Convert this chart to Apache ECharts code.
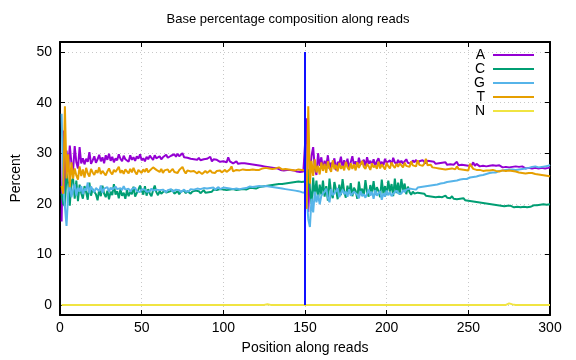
<!DOCTYPE html>
<html><head><meta charset="utf-8">
<script src="https://cdn.jsdelivr.net/npm/echarts@6.0.0/dist/echarts.min.js"></script>
<style>html,body{margin:0;padding:0;background:#fff}#c{width:576px;height:360px}</style>
</head><body><div id="c"></div>
<script>
const seriesNames = ['A', 'C', 'G', 'T', 'N'];
const xTickValues = [0, 50, 100, 150, 200, 250, 300];
const yTickValues = [0, 10, 20, 30, 40, 50];
const boundaryX = 150;
const boundaryY = [0, 50];

const A = [16.5, 34.5, 22.0, 30.5, 26.5, 31.5, 28.0, 26.5, 31.4, 28.2,
 27.0, 31.2, 28.0, 29.0, 27.8, 28.9, 28.3, 30.2, 27.9, 28.6,
 29.4, 28.1, 28.8, 29.7, 28.4, 29.2, 28.0, 29.6, 28.7, 29.9,
 28.5, 29.3, 28.2, 29.0, 28.6, 29.8, 28.9, 28.4, 29.5, 28.8,
 29.1, 28.3, 29.6, 28.7, 29.2, 28.5, 29.4, 28.9, 29.8, 28.6,
 29.0, 28.4, 29.3, 28.8, 29.5, 29.1, 28.7, 29.6, 29.0, 28.9,
 29.4, 28.8, 29.2, 29.0, 29.7, 29.1, 28.9, 29.5, 29.2, 29.8,
 29.3, 29.9, 29.4, 29.6, 30.0, 29.2, 29.5, 29.1, 29.4, 28.9,
 29.2, 28.8, 29.0, 28.7, 29.1, 28.6, 28.9, 28.8, 28.5, 28.9,
 28.6, 29.3, 28.4, 28.8, 28.5, 28.7, 28.6, 28.3, 28.5, 28.4,
 28.6, 28.2, 29.2, 28.4, 28.3, 28.0, 28.2, 28.4, 27.9, 28.1,
 28.0, 27.8, 28.0, 27.7, 27.9, 27.6, 27.8, 27.5, 27.7, 27.4,
 27.6, 27.3, 27.5, 27.2, 27.4, 27.1, 27.3, 27.0, 27.2, 26.9,
 27.1, 26.8, 27.0, 26.9, 26.7, 26.9, 26.6, 26.8, 26.7, 26.5,
 26.7, 26.4, 26.6, 26.5, 26.4, 26.6, 26.3, 26.5, 26.4, 26.3,
 36.9, 18.4, 26.0, 29.5, 31.2, 27.0, 25.7, 30.0, 27.5, 29.2,
 26.8, 28.5, 27.4, 29.6, 26.9, 28.1, 27.7, 29.0, 26.6, 28.3,
 27.9, 29.3, 27.2, 28.6, 27.5, 28.9, 27.0, 28.2, 29.4, 27.6,
 28.4, 27.3, 29.1, 27.8, 28.0, 28.7, 27.4, 29.2, 27.9, 28.5,
 27.7, 28.8, 27.5, 28.4, 29.0, 27.8, 28.3, 27.6, 28.9, 28.1,
 27.9, 28.6, 27.7, 29.1, 28.2, 27.8, 28.7, 28.0, 28.5, 27.9,
 28.4, 28.8, 28.1, 28.3, 27.9, 28.6, 28.2, 28.7, 28.0, 28.4,
 28.1, 28.6, 28.3, 28.0, 28.5, 28.2, 28.4, 28.1, 28.3, 27.9,
 28.2, 28.0, 27.8, 28.1, 27.9, 28.2, 27.7, 28.0, 27.8, 27.9,
 27.7, 28.0, 28.3, 27.6, 27.9, 27.7, 28.0, 27.6, 27.8, 27.5,
 27.7, 27.6, 28.2, 27.5, 27.9, 27.6, 27.4, 27.7, 27.5, 27.6,
 27.4, 27.7, 27.5, 27.3, 27.6, 27.4, 27.5, 27.3, 27.6, 27.4,
 27.2, 27.5, 27.3, 27.4, 27.2, 27.5, 27.3, 27.1, 27.4, 27.2,
 27.3, 27.1, 27.4, 27.2, 27.0, 27.3, 27.1, 27.2, 27.0, 27.3,
 27.1, 27.2, 27.0, 27.3, 27.1, 27.2, 27.0, 27.3, 27.1, 27.2];

const C = [22.0, 20.0, 19.5, 26.0, 24.0, 19.6, 24.5, 25.0, 21.0, 24.6,
 20.5, 23.8, 22.1, 21.0, 23.5, 22.3, 20.8, 24.2, 21.6, 22.9,
 23.1, 21.9, 20.7, 22.8, 21.5, 23.6, 22.0, 21.3, 22.6, 20.9,
 22.4, 21.7, 23.9, 21.8, 22.5, 21.1, 22.9, 21.6, 22.2, 21.0,
 22.7, 21.5, 22.3, 21.9, 23.4, 21.4, 22.1, 22.8, 23.6, 22.6,
 21.8, 23.5, 21.6, 22.9, 22.0, 21.5, 22.7, 23.6, 22.3, 21.7,
 22.5, 22.0, 21.8, 22.6, 22.2, 21.9, 22.4, 22.1, 22.7, 22.0,
 22.3, 22.5, 21.9, 22.4, 22.2, 22.6, 22.1, 22.5, 22.3, 22.0,
 22.4, 22.2, 22.6, 22.3, 22.5, 22.1, 22.4, 22.7, 22.2, 22.5,
 22.3, 22.6, 22.4, 22.8, 22.5, 22.7, 22.6, 22.9, 22.7, 22.8,
 22.5, 22.7, 22.6, 22.8, 22.7, 22.9, 22.8, 22.7, 22.9, 22.8,
 22.7, 22.9, 23.0, 22.8, 23.0, 23.1, 22.9, 23.1, 23.2, 23.0,
 23.2, 23.3, 23.1, 23.4, 23.3, 23.5, 23.4, 23.6, 23.5, 23.7,
 23.6, 23.8, 23.7, 23.9, 24.0, 23.9, 24.1, 24.0, 24.2, 24.1,
 24.3, 24.2, 24.4, 24.3, 24.5, 24.4, 24.6, 24.3, 24.5, 24.4,
 22.5, 26.8, 23.0, 20.0, 25.2, 21.5, 24.6, 20.9, 23.8, 21.8,
 24.6, 21.4, 23.5, 20.6, 25.0, 22.2, 21.1, 24.3, 22.8, 20.9,
 23.8, 21.7, 24.9, 22.4, 21.2, 23.6, 22.0, 24.1, 21.5, 23.2,
 22.6, 21.0, 24.4, 22.1, 23.0, 21.6, 24.7, 22.3, 21.4, 23.7,
 22.2, 24.5, 21.8, 23.3, 22.5, 21.3, 24.8, 22.0, 23.5, 21.7,
 24.6, 22.4, 23.9, 21.5, 25.0, 22.1, 24.2, 21.8, 24.9, 22.6,
 24.0, 21.9, 23.4, 22.3, 21.8, 22.4, 22.0, 21.7, 22.2, 21.9,
 22.1, 21.8, 22.0, 21.6, 21.9, 21.5, 21.8, 21.4, 21.7, 21.3,
 21.6, 21.4, 21.7, 21.3, 21.5, 21.6, 21.2, 21.4, 21.1, 21.5,
 21.0, 21.3, 20.9, 21.2, 21.0, 20.8, 21.1, 20.7, 20.9, 20.6,
 20.8, 20.5, 20.7, 20.4, 20.6, 20.3, 20.5, 20.2, 20.4, 20.1,
 20.3, 20.0, 20.2, 19.9, 20.1, 19.8, 20.0, 19.7, 19.9, 19.6,
 19.8, 19.5, 19.7, 19.6, 19.4, 19.6, 19.5, 19.3, 19.6, 19.4,
 19.5, 19.3, 19.6, 19.4, 19.5, 19.3, 19.6, 19.4, 19.5, 19.7,
 19.5, 19.7, 19.6, 19.8, 19.7, 19.9, 20.1, 19.8, 20.0, 19.9];

const G = [37.8, 23.0, 19.5, 15.6, 22.0, 24.1, 21.3, 22.8, 23.9, 21.6,
 23.2, 22.4, 23.5, 21.9, 23.0, 22.6, 24.2, 22.1, 23.4, 22.8,
 22.3, 23.1, 22.9, 22.5, 23.6, 22.2, 23.0, 22.7, 23.3, 22.4,
 23.2, 22.8, 22.5, 23.4, 22.9, 22.6, 23.1, 22.7, 23.5, 22.8,
 22.6, 23.0, 22.4, 22.9, 22.7, 23.2, 22.5, 22.8, 22.3, 22.9,
 22.6, 22.8, 22.4, 22.7, 22.5, 23.0, 22.6, 22.3, 22.8, 22.5,
 22.7, 22.4, 22.8, 22.6, 22.3, 22.7, 22.5, 22.9, 22.4, 22.6,
 22.8, 22.5, 22.7, 22.3, 22.6, 22.8, 22.4, 22.7, 22.5, 22.9,
 22.6, 22.8, 22.5, 23.0, 22.7, 22.9, 22.6, 23.1, 22.8, 23.0,
 22.7, 23.1, 22.9, 23.2, 22.8, 23.0, 23.3, 22.9, 23.1, 23.2,
 22.9, 23.1, 22.8, 23.0, 23.2, 22.9, 23.1, 23.0, 23.2, 22.9,
 23.1, 23.0, 23.3, 23.1, 23.2, 23.4, 23.1, 23.3, 23.2, 23.4,
 23.3, 23.5, 23.2, 23.4, 23.3, 23.5, 23.2, 23.4, 23.1, 23.3,
 23.0, 23.2, 22.9, 23.1, 22.8, 23.0, 22.7, 22.9, 22.6, 22.8,
 22.5, 22.7, 22.4, 22.6, 22.3, 22.5, 22.6, 22.3, 22.4, 22.2,
 21.5, 17.0, 15.4, 21.0, 18.3, 22.4, 20.3, 21.8, 19.9, 21.6,
 21.5, 22.4, 23.0, 21.2, 20.3, 22.9, 21.7, 21.6, 22.5, 23.1,
 21.3, 21.0, 22.8, 21.9, 22.4, 21.4, 22.9, 21.6, 21.3, 22.4,
 22.7, 21.8, 21.1, 22.5, 21.5, 21.9, 21.2, 21.4, 22.8, 21.6,
 22.4, 21.0, 22.7, 21.6, 21.3, 22.5, 20.8, 22.1, 21.4, 22.6,
 21.7, 22.3, 21.5, 22.0, 21.9, 22.6, 22.1, 22.4, 22.0, 22.7,
 22.3, 22.8, 22.5, 23.0, 22.7, 22.9, 23.1, 22.8, 23.2, 23.0,
 23.3, 23.1, 23.4, 23.2, 23.5, 23.3, 23.6, 23.4, 23.7, 23.5,
 23.8, 23.7, 24.0, 23.9, 24.1, 24.0, 24.3, 24.2, 24.4, 24.3,
 24.5, 24.4, 24.6, 24.5, 24.8, 24.7, 24.9, 25.0, 24.9, 25.1,
 25.2, 25.1, 25.3, 25.2, 25.4, 25.3, 25.6, 25.5, 25.7, 25.8,
 25.9, 26.0, 26.1, 26.0, 26.2, 26.3, 26.2, 26.4, 26.5, 26.4,
 26.6, 26.5, 26.7, 26.6, 26.8, 26.7, 26.8, 26.9, 26.7, 26.9,
 26.8, 27.0, 26.9, 27.1, 27.0, 27.2, 27.1, 27.2, 27.3, 27.2,
 27.4, 27.3, 27.2, 27.4, 27.3, 27.5, 27.4, 27.6, 27.5, 27.7];

const T = [23.5, 22.0, 39.3, 25.0, 29.8, 23.3, 28.2, 25.0, 27.0, 25.6,
 24.8, 27.4, 25.5, 26.8, 25.2, 27.1, 26.0, 25.4, 26.9, 26.2,
 25.7, 26.6, 26.1, 27.2, 25.9, 26.5, 26.8, 25.6, 26.4, 27.0,
 26.2, 25.8, 26.7, 26.3, 26.0, 27.3, 26.1, 26.6, 25.9, 26.8,
 26.4, 26.0, 26.9, 26.2, 27.1, 26.3, 25.8, 26.7, 26.5, 26.1,
 26.8, 26.3, 27.0, 26.2, 26.6, 26.4, 27.2, 27.4, 26.7, 26.5,
 26.3, 26.9, 26.1, 26.6, 26.4, 26.8, 26.2, 26.5, 26.9, 26.3,
 26.6, 26.1, 26.7, 26.4, 27.3, 26.5, 26.0, 26.6, 26.3, 26.4,
 26.1, 26.5, 26.2, 26.0, 26.4, 26.3, 25.9, 26.2, 26.5, 26.1,
 26.3, 26.6, 26.2, 26.4, 26.1, 26.5, 26.3, 26.6, 26.2, 26.4,
 26.7, 26.3, 26.5, 26.8, 27.4, 26.4, 26.3, 26.7, 26.5, 26.6,
 26.4, 26.8, 26.5, 26.7, 26.6, 26.7, 26.5, 26.8, 26.6, 26.7,
 26.9, 26.7, 26.8, 27.0, 26.8, 27.1, 26.9, 27.0, 27.2, 26.9,
 27.1, 27.0, 26.9, 27.2, 27.0, 26.8, 27.1, 26.9, 27.0, 26.8,
 26.9, 26.7, 26.8, 26.6, 26.7, 26.8, 26.6, 26.7, 26.8, 26.6,
 19.0, 39.3, 24.0, 28.5, 25.5, 28.8, 26.2, 27.5, 25.8, 28.2,
 26.5, 27.9, 26.1, 28.4, 27.0, 26.3, 28.6, 26.8, 27.7, 26.4,
 28.1, 26.9, 27.5, 26.6, 28.3, 27.2, 26.7, 28.0, 26.9, 27.8,
 26.6, 28.2, 27.1, 26.8, 28.5, 27.3, 26.9, 27.9, 27.4, 26.7,
 28.0, 27.2, 27.6, 26.9, 28.3, 27.0, 27.8, 27.3, 26.8, 28.1,
 27.4, 27.0, 28.2, 27.5, 27.1, 27.9, 27.3, 28.0, 27.6, 27.2,
 28.1, 27.5, 27.8, 27.3, 28.4, 27.6, 27.9, 27.4, 28.6, 27.7,
 27.8, 27.5, 27.9, 28.9, 27.6, 27.4, 27.7, 27.2, 27.5, 27.1,
 27.3, 27.0, 27.2, 26.9, 27.1, 26.8, 27.0, 26.9, 26.8, 27.0,
 26.9, 26.8, 27.4, 26.9, 26.7, 26.8, 26.9, 26.7, 26.8, 26.6,
 27.9, 27.6, 26.9, 26.8, 26.7, 26.5, 26.7, 26.6, 26.5, 26.7,
 26.6, 26.4, 26.6, 26.5, 26.7, 26.4, 26.5, 26.6, 26.4, 26.5,
 26.6, 26.3, 26.5, 26.4, 26.6, 26.3, 26.5, 26.2, 26.4, 26.3,
 26.2, 26.4, 26.1, 26.3, 26.0, 26.2, 26.1, 25.9, 26.1, 26.0,
 25.9, 26.0, 25.8, 25.9, 25.7, 25.8, 25.6, 25.7, 25.5, 25.4];

const N = [0,0,0,0,0,0,0,0,0,0,0,0,0,0,0,0,0,0,0,0,0,0,0,0,0,0,0,0,0,0,
 0,0,0,0,0,0,0,0,0,0,0,0,0,0,0,0,0,0,0,0,0,0,0,0,0,0,0,0,0,0,
 0,0,0,0,0,0,0,0,0,0,0,0,0,0,0,0,0,0,0,0,0,0,0,0,0,0,0,0,0,0,
 0,0,0,0,0,0,0,0,0,0,0,0,0,0,0,0,0,0,0,0,0,0,0,0,0,0,0,0,0,0,
 0,0,0,0,0,0.05,0.12,0.05,0,0,0,0,0,0,0,0,0,0,0,0,0,0,0,0,0,0,0,0,0,0,
 0,0,0,0,0,0,0,0,0,0,0,0,0,0,0,0,0,0,0,0,0,0,0,0,0,0,0,0,0,0,
 0,0,0,0,0,0,0,0,0,0,0,0,0,0,0,0,0,0,0,0,0,0,0,0,0,0,0,0,0,0,
 0,0,0,0,0,0,0,0,0,0,0,0,0,0,0,0,0,0,0,0,0,0,0,0,0,0,0,0,0,0,
 0,0,0,0,0,0,0,0,0,0,0,0,0,0,0,0,0,0,0,0,0,0,0,0,0,0,0,0,0,0,
 0,0,0,0.1,0.3,0.3,0.1,0,0,0,0,0,0,0,0,0,0,0,0,0,0,0,0,0,0,0,0,0,0,0];

const seriesValues = [A, C, G, T, N];
const colors = ['#9400d3', '#009e73', '#56b4e9', '#e69f00', '#f0e442'];
const font = '"Liberation Sans", Arial, Helvetica, sans-serif';

function toPoints(vals) { return vals.map((v, i) => [i + 1, v]); }

const chart = echarts.init(document.getElementById('c'), null, {renderer: 'canvas'});
const tickStyle = {inside: true, length: 5, lineStyle: {color: '#000', width: 1}};
const borderLine = {show: true, onZero: false, lineStyle: {color: '#000', width: 2}};
const gridSplit = {show: true, showMinLine: false, showMaxLine: false,
  lineStyle: {color: '#c8c8c8', type: [1, 3], width: 1}};
const yFmt = v => (yTickValues.indexOf(v) >= 0 ? String(v) : '');
const xFmt = v => (xTickValues.indexOf(v) >= 0 ? String(v) : '');

const series = seriesNames.map((n, k) => ({
  name: n, type: 'line', data: toPoints(seriesValues[k]),
  showSymbol: false, symbol: 'none', animation: false,
  lineStyle: {width: 2, color: colors[k]}, itemStyle: {color: colors[k]},
  z: 2 + k * 0.01
}));
series.push({
  name: 'boundary', type: 'line', data: boundaryY.map(y => [boundaryX, y]),
  showSymbol: false, symbol: 'none', lineStyle: {width: 2, color: '#1010ff'}, z: 3
});

chart.setOption({
  animation: false,
  backgroundColor: '#fff',
  textStyle: {fontFamily: font},
  title: {text: 'Base percentage composition along reads', left: 'center', top: 8,
    textStyle: {fontSize: 13, fontWeight: 'normal', color: '#000', fontFamily: font}},
  legend: {data: seriesNames, orient: 'vertical', right: 42, top: 48, padding: 0,
    align: 'right', itemWidth: 41, itemHeight: 2, itemGap: 0, icon: 'rect', selectedMode: false,
    textStyle: {fontSize: 14, color: '#000', lineHeight: 14, padding: [0, 3, 0, 0], fontFamily: font}},
  grid: {left: 60, right: 26, top: 42, bottom: 44, show: false, containLabel: false},
  xAxis: [
    {type: 'value', min: 0, max: 300, interval: 50, position: 'bottom',
     name: 'Position along reads', nameLocation: 'middle', nameGap: 26,
     nameTextStyle: {fontSize: 14, color: '#000', fontFamily: font},
     axisLine: borderLine, axisTick: tickStyle,
     axisLabel: {fontSize: 14, color: '#000', margin: 6, formatter: xFmt, fontFamily: font},
     splitLine: gridSplit},
    {type: 'value', min: 0, max: 300, interval: 50, position: 'top',
     axisLine: borderLine, axisTick: tickStyle, axisLabel: {show: false}, splitLine: {show: false}}
  ],
  yAxis: [
    {type: 'value', min: -2, max: 52, splitNumber: 5, position: 'left',
     name: 'Percent', nameLocation: 'middle', nameGap: 37, nameRotate: 90,
     nameTextStyle: {fontSize: 14, color: '#000', fontFamily: font},
     axisLine: borderLine, axisTick: tickStyle,
     axisLabel: {fontSize: 14, color: '#000', margin: 8, formatter: yFmt, fontFamily: font},
     splitLine: gridSplit},
    {type: 'value', min: -2, max: 52, splitNumber: 5, position: 'right',
     axisLine: borderLine, axisTick: tickStyle, axisLabel: {show: false}, splitLine: {show: false}}
  ],
  series: series
});
</script>
</body></html>
